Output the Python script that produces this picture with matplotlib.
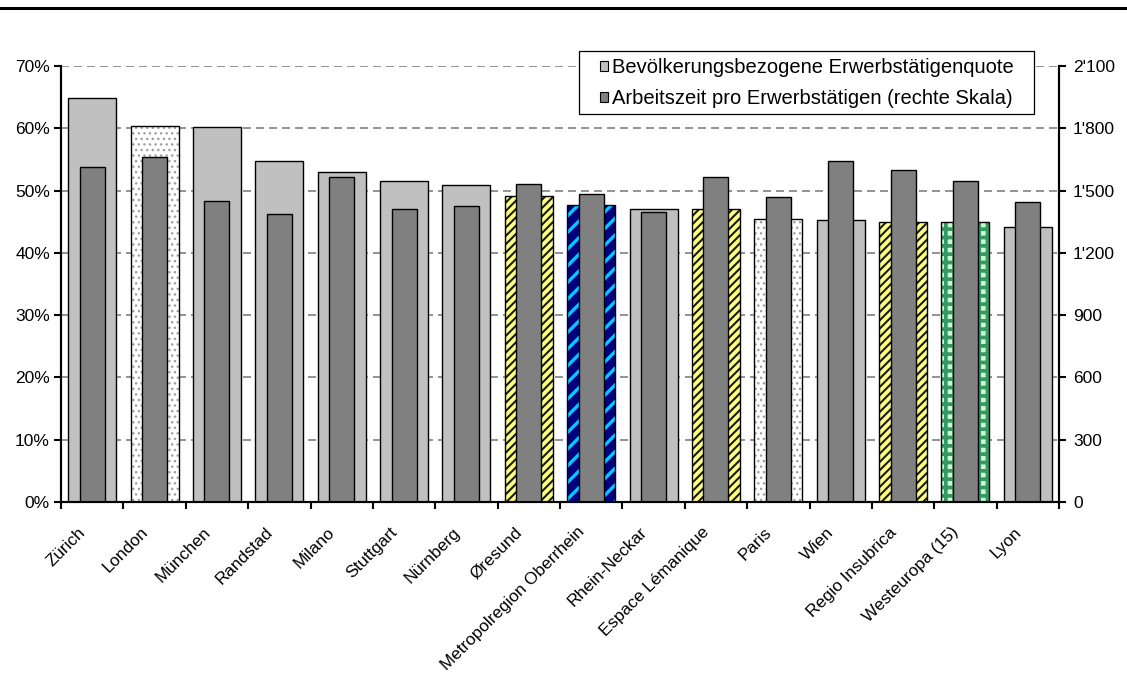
import matplotlib
matplotlib.use("Agg")
import matplotlib.pyplot as plt
from matplotlib.patches import Patch, Rectangle
from matplotlib.lines import Line2D
from matplotlib.ticker import FuncFormatter

plt.rcParams['font.family'] = ['Liberation Sans', 'DejaVu Sans']
plt.rcParams['font.size'] = 12.5

# data
regions = ['Zürich', 'London', 'München', 'Randstad', 'Milano', 'Stuttgart',
           'Nürnberg', 'Øresund', 'Metropolregion Oberrhein', 'Rhein-Neckar',
           'Espace Lémanique', 'Paris', 'Wien', 'Regio Insubrica',
           'Westeuropa (15)', 'Lyon']
quote = [64.8, 60.3, 60.2, 54.7, 53.0, 51.5, 50.9, 49.2, 47.7, 47.1,
         47.0, 45.4, 45.2, 45.0, 44.9, 44.1]
hours = [1614, 1662, 1449, 1387, 1565, 1411, 1425, 1531, 1482, 1395,
         1563, 1467, 1642, 1599, 1544, 1443]
# pattern of the left bar: plain, dots, stripes, blue, check
styles = ['plain', 'dots', 'plain', 'plain', 'plain', 'plain', 'plain',
          'stripes', 'blue', 'plain', 'stripes', 'dots', 'plain', 'stripes',
          'check', 'plain']

LIGHT = '#c0c0c0'
DARK = '#808080'
pattern = {
    'dots': ('white', '#a0a0a0', '...', 1.0),
    'stripes': ('#ffff80', '#1a1a1a', '////', 1.5),
    'blue': ('#000080', '#00ccff', '//', 2.4),
    'check': ('#ccffcc', '#339966', '++', 2.7),
}

fig = plt.figure(figsize=(11.27, 6.73), dpi=100)
ax = fig.add_axes([61 / 1127, 171 / 673, 998 / 1127, 436 / 673])
ax2 = ax.twinx()

x = list(range(len(regions)))
ax.set_xlim(-0.5, len(regions) - 0.5)
ax.set_ylim(0, 70)
ax2.set_ylim(0, 2100)

ax.set_yticks(range(0, 71, 10))
ax.yaxis.set_major_formatter(FuncFormatter(lambda v, p: f'{int(v)}%'))
ax2.set_yticks(range(0, 2101, 300))
ax2.yaxis.set_major_formatter(
    FuncFormatter(lambda v, p: f'{int(v):,}'.replace(',', "'")))

for i, (q, st) in enumerate(zip(quote, styles)):
    if st == 'plain':
        ax.bar(i, q, width=0.77, color=LIGHT, edgecolor='black', linewidth=1, zorder=2)
    else:
        fc, hc, h, hlw = pattern[st]
        plt.rcParams['hatch.linewidth'] = hlw
        b = ax.bar(i, q, width=0.77, color=fc, edgecolor=hc, hatch=h, linewidth=0, zorder=2)
        for r in b:
            if hasattr(r, 'set_hatch_linewidth'):
                r.set_hatch_linewidth(hlw)
        ax.bar(i, q, width=0.77, fill=False, edgecolor='black', linewidth=1, zorder=3)

ax2.bar(x, hours, width=0.40, color=DARK, edgecolor='black', linewidth=1, zorder=2)

# grid behind the bars
ax.grid(axis='y', color='#808080', linestyle=(0, (4.8, 3)), linewidth=1.2, zorder=0)
ax.set_axisbelow(True)

ax.set_xticks([-0.5] + [i + 0.5 for i in x])
ax.set_xticklabels([])
for i, name in enumerate(regions):
    ax.annotate(name, xy=(i, 0), xycoords=('data', 'axes fraction'),
                xytext=(-6.5, -20), textcoords='offset points',
                rotation=45, ha='right', va='center', rotation_mode='anchor',
                fontsize=12.3)

for a in (ax, ax2):
    a.spines['top'].set_visible(False)
    for s in ('left', 'right', 'bottom'):
        a.spines[s].set_linewidth(1.5)
    a.tick_params(direction='out', length=5, width=1.5, labelsize=12.5, pad=3)
ax2.tick_params(axis='y', pad=5)

# legend: white box in figure pixels, entries without own frame
W, H = 1127, 673
fig.add_artist(Rectangle((579 / W, 1 - 114 / H), 455 / W, 63 / H,
                         transform=fig.transFigure, facecolor='white',
                         edgecolor='black', linewidth=0.9, zorder=4))
handles = [Patch(facecolor=LIGHT, edgecolor='black', linewidth=0.8),
           Patch(facecolor=DARK, edgecolor='black', linewidth=0.8)]
labels = ['Bevölkerungsbezogene Erwerbstätigenquote',
          'Arbeitszeit pro Erwerbstätigen (rechte Skala)']
leg = fig.legend(handles, labels, loc='upper left',
                 bbox_to_anchor=(600 / W, 1 - 58 / H),
                 borderaxespad=0, borderpad=0, frameon=False,
                 fontsize=14.5, handlelength=0.4, handleheight=0.4,
                 handletextpad=0.2, labelspacing=0.6)
leg.set_zorder(5)

fig.add_artist(Line2D([0, 1], [1 - 8 / H] * 2, color='black', linewidth=2.2,
                      transform=fig.transFigure))

fig.savefig('out.png', dpi=100)
